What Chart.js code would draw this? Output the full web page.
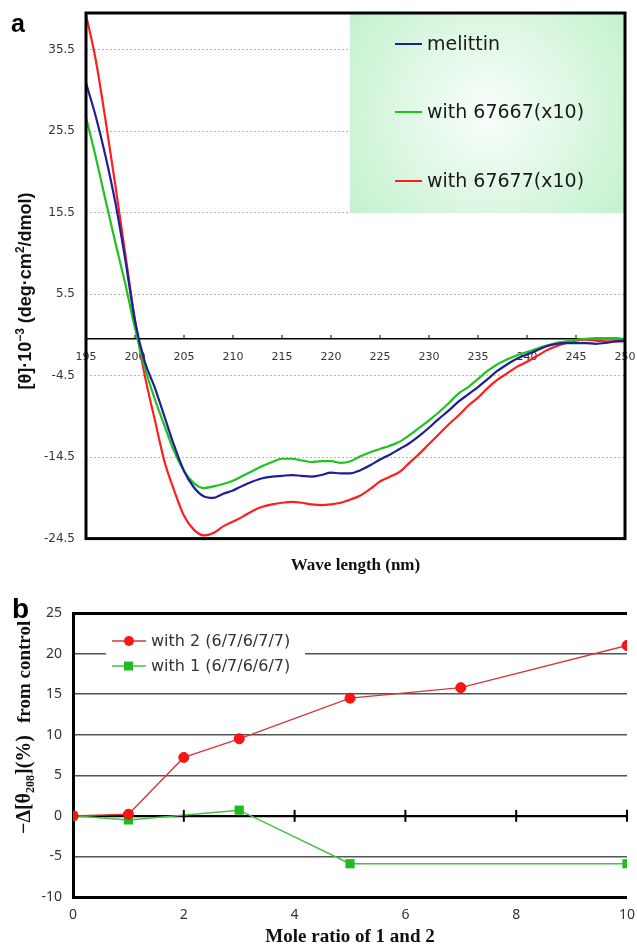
<!DOCTYPE html>
<html>
<head>
<meta charset="utf-8">
<script src="https://cdn.jsdelivr.net/npm/chart.js"></script>
<style>
  html, body { margin: 0; padding: 0; background: #fff; }
  #wrapA { position: absolute; left: 0; top: 0; width: 637px; height: 589px; }
  #wrapB { position: absolute; left: 0; top: 590px; width: 637px; height: 357px; }
</style>
</head>
<body>
<div id="wrapA"><canvas id="chartA" width="637" height="589"></canvas></div>
<div id="wrapB"><canvas id="chartB" width="637" height="357"></canvas></div>

<script>
// ---- panel a : CD spectra ----
const waveLength = [195, 196, 197, 198, 199, 200, 201, 202, 203, 204, 205, 206, 207, 208, 209, 210,
  211, 212, 213, 214, 215, 216, 217, 218, 219, 220, 221, 222, 223, 224, 225, 226, 227, 228, 229, 230,
  231, 232, 233, 234, 235, 236, 237, 238, 239, 240, 241, 242, 243, 244, 245, 246, 247, 248, 249, 250];
const melittin = [31.4, 27.3, 22.4, 16.7, 9.8, 2.2, -2.8, -5.9, -9.5, -13.1, -16.2, -18.2, -19.3, -19.5,
  -19.0, -18.6, -18.0, -17.5, -17.1, -16.9, -16.8, -16.7, -16.8, -16.9, -16.7, -16.4, -16.5, -16.5,
  -16.1, -15.5, -14.8, -14.2, -13.5, -12.8, -11.9, -10.9, -9.8, -8.8, -7.7, -6.8, -5.9, -4.9, -3.9,
  -3.1, -2.4, -1.9, -1.4, -0.9, -0.6, -0.5, -0.5, -0.5, -0.6, -0.5, -0.3, -0.2];
const with67667 = [27.2, 22.3, 17.0, 11.8, 6.8, 1.3, -3.5, -7.3, -10.6, -13.8, -16.2, -17.7, -18.3, -18.1,
  -17.8, -17.4, -16.8, -16.2, -15.6, -15.1, -14.7, -14.7, -14.9, -15.1, -15.0, -15.0, -15.2, -15.0,
  -14.4, -13.9, -13.5, -13.1, -12.6, -11.8, -10.9, -10.0, -9.0, -7.9, -6.7, -5.9, -4.9, -3.9, -3.1,
  -2.5, -2.0, -1.6, -1.2, -0.8, -0.5, -0.3, -0.1, 0.0, 0.1, 0.1, 0.1, 0.0];
const with67677 = [39.8, 34.2, 26.8, 18.8, 10.5, 2.3, -4.5, -9.8, -15.0, -18.6, -21.7, -23.4, -24.1, -23.8,
  -23.0, -22.4, -21.8, -21.1, -20.6, -20.3, -20.1, -20.0, -20.1, -20.3, -20.4, -20.3, -20.1, -19.7,
  -19.2, -18.4, -17.5, -16.9, -16.3, -15.2, -14.1, -12.9, -11.7, -10.5, -9.4, -8.2, -7.2, -6.0, -5.0,
  -4.2, -3.4, -2.8, -2.1, -1.4, -0.9, -0.5, -0.2, -0.1, -0.2, -0.3, -0.3, -0.3];
const seriesNamesA = ['melittin', 'with 67667(x10)', 'with 67677(x10)'];
const xTicksA = [195, 200, 205, 210, 215, 220, 225, 230, 235, 240, 245, 250];
const yTicksA = [-24.5, -14.5, -4.5, 5.5, 15.5, 25.5, 35.5];

// ---- panel b : mole ratio ----
const moleRatio2 = [0, 1, 2, 3, 5, 7, 10];
const with2 = [0, 0.2, 7.2, 9.5, 14.5, 15.8, 21.0];
const moleRatio1 = [0, 1, 3, 5, 10];
const with1 = [0, -0.5, 0.7, -5.9, -5.9];
const seriesNamesB = ['with 2 (6/7/6/7/7)', 'with 1 (6/7/6/6/7)'];

function pts(xs, ys) { return xs.map((x, i) => ({ x: x, y: ys[i] })); }

// rotated text made of pieces [text, font, dy]
function drawRotated(ctx, cx, cy, pieces, centered) {
  let total = 0;
  pieces.forEach(p => { ctx.font = p[1]; p.w = ctx.measureText(p[0]).width; total += p.w; });
  ctx.save();
  ctx.translate(cx, cy);
  ctx.rotate(-Math.PI / 2);
  ctx.textBaseline = 'alphabetic';
  ctx.textAlign = 'left';
  let x = centered ? -total / 2 : 0;
  pieces.forEach(p => { ctx.font = p[1]; ctx.fillText(p[0], x, p[2]); x += p.w; });
  ctx.restore();
}

const decorA = {
  id: 'decorA',
  afterDatasetsDraw(chart) {
    const { ctx, chartArea: a, scales } = chart;
    ctx.save();
    // legend box
    const bx = 350, by = a.top, bw = a.right - 350, bh = 213 - a.top;
    const g = ctx.createRadialGradient(bx + bw / 2, by + bh / 2, 8, bx + bw / 2, by + bh / 2, bw * 0.6);
    g.addColorStop(0, '#f7fdf8');
    g.addColorStop(1, '#c4f2cf');
    ctx.fillStyle = g;
    ctx.fillRect(bx, by, bw, bh);
    const rows = [44, 112, 181];
    ctx.font = '19px "DejaVu Sans"';
    ctx.textBaseline = 'middle';
    ctx.fillStyle = '#1a1a1a';
    chart.data.datasets.forEach((ds, i) => {
      ctx.strokeStyle = ds.borderColor;
      ctx.lineWidth = 2;
      ctx.beginPath(); ctx.moveTo(395, rows[i]); ctx.lineTo(422, rows[i]); ctx.stroke();
      ctx.fillText(ds.label, 427, rows[i] + 1);
    });
    // small tick marks above the zero line
    const y0 = scales.y.getPixelForValue(0);
    ctx.strokeStyle = '#000';
    ctx.lineWidth = 1;
    xTicksA.forEach(v => {
      const px = scales.x.getPixelForValue(v);
      ctx.beginPath(); ctx.moveTo(px, y0); ctx.lineTo(px, y0 - 4); ctx.stroke();
    });
    // frame
    ctx.lineWidth = 3;
    ctx.strokeRect(a.left, a.top, a.right - a.left, a.bottom - a.top);
    ctx.restore();
  },
  afterDraw(chart) {
    const ctx = chart.ctx;
    ctx.save();
    ctx.fillStyle = '#000';
    ctx.font = 'bold 25px "Liberation Sans"';
    ctx.textBaseline = 'alphabetic';
    ctx.fillText('a', 11, 32);
    ctx.fillStyle = '#111';
    const f = 'bold 18px "Liberation Sans"', s = 'bold 12px "Liberation Sans"';
    drawRotated(ctx, 31, 291, [
      ['[θ]·10', f, 0], ['−3', s, -7], [' (deg·cm', f, 0], ['2', s, -7], ['/dmol)', f, 0]
    ], true);
    ctx.restore();
  }
};

const decorB = {
  id: 'decorB',
  afterDatasetsDraw(chart) {
    const { ctx, scales } = chart;
    ctx.save();
    // tick marks across the zero line
    const y0 = scales.y.getPixelForValue(0);
    ctx.strokeStyle = '#000';
    ctx.lineWidth = 2;
    [2, 4, 6, 8, 10].forEach(v => {
      const px = scales.x.getPixelForValue(v);
      ctx.beginPath(); ctx.moveTo(px, y0 - 6); ctx.lineTo(px, y0 + 6); ctx.stroke();
    });
    // legend
    ctx.fillStyle = '#fff';
    ctx.fillRect(106, 40, 199, 48);
    const rows = [51, 76];
    ctx.font = '16px "DejaVu Sans"';
    ctx.textBaseline = 'middle';
    chart.data.datasets.forEach((ds, i) => {
      ctx.strokeStyle = ds.borderColor;
      ctx.lineWidth = 1.5;
      ctx.beginPath(); ctx.moveTo(112, rows[i]); ctx.lineTo(146, rows[i]); ctx.stroke();
      ctx.fillStyle = ds.pointBackgroundColor;
      if (ds.pointStyle === 'rect') {
        ctx.fillRect(124, rows[i] - 4.5, 9, 9);
      } else {
        ctx.beginPath(); ctx.arc(129, rows[i], 5, 0, Math.PI * 2); ctx.fill();
      }
      ctx.fillStyle = '#333';
      ctx.fillText(ds.label, 151, rows[i] + 1);
    });
    ctx.restore();
  },
  afterDraw(chart) {
    const ctx = chart.ctx;
    ctx.save();
    ctx.fillStyle = '#000';
    ctx.font = 'bold 28px "Liberation Sans"';
    ctx.textBaseline = 'alphabetic';
    ctx.fillText('b', 12, 28);
    ctx.fillStyle = '#111';
    const f = 'bold 20px "Liberation Serif"', s = 'bold 12px "Liberation Serif"';
    drawRotated(ctx, 30, 244, [['−Δ[θ', f, 0], ['208', s, 4], ['](%)', f, 0]], false);
    drawRotated(ctx, 30, 133, [['from control', 'bold 19px "Liberation Serif"', 0]], false);
    ctx.restore();
  }
};

new Chart(document.getElementById('chartA'), {
  type: 'line',
  data: {
    datasets: [
      { label: seriesNamesA[0], data: pts(waveLength, melittin), borderColor: '#1e1e96' },
      { label: seriesNamesA[1], data: pts(waveLength, with67667), borderColor: '#1cc41c' },
      { label: seriesNamesA[2], data: pts(waveLength, with67677), borderColor: '#ff1e1e' }
    ]
  },
  options: {
    responsive: false,
    animation: false,
    devicePixelRatio: 1,
    layout: { padding: { top: 13, right: 12, left: 0, bottom: 0 } },
    elements: {
      line: { borderWidth: 2.2, cubicInterpolationMode: 'monotone', fill: false },
      point: { radius: 0 }
    },
    plugins: {
      legend: { display: false },
      tooltip: { enabled: false },
      title: {
        display: true,
        position: 'bottom',
        fullSize: false,
        text: 'Wave length (nm)',
        color: '#111',
        font: { family: '"Liberation Serif"', size: 17, weight: 'bold' },
        padding: { top: 17, bottom: 13 }
      }
    },
    scales: {
      x: {
        type: 'linear',
        min: 195, max: 250,
        position: { y: 0 },
        grid: { display: false, drawTicks: false },
        border: { display: true, color: '#000', width: 1.5 },
        ticks: { padding: 12, color: '#333', font: { family: '"DejaVu Sans"', size: 11 }, maxRotation: 0, autoSkip: false },
        afterBuildTicks: s => { s.ticks = xTicksA.map(v => ({ value: v })); },
        afterFit: s => { s.paddingLeft = 0; s.paddingRight = 0; }
      },
      y: {
        type: 'linear',
        min: -24.5, max: 40,
        grid: { color: '#b5b5b5', lineWidth: 1, drawTicks: false },
        border: { display: false, dash: [2, 2] },
        ticks: {
          padding: 11, color: '#333', font: { family: '"DejaVu Sans"', size: 12 },
          callback: v => v.toFixed(1)
        },
        afterBuildTicks: s => { s.ticks = yTicksA.map(v => ({ value: v })); },
        afterFit: s => { s.width = 86; s.paddingTop = 0; s.paddingBottom = 0; }
      }
    }
  },
  plugins: [decorA]
});

new Chart(document.getElementById('chartB'), {
  type: 'line',
  data: {
    datasets: [
      {
        label: seriesNamesB[0], data: pts(moleRatio2, with2),
        borderColor: '#d03a3a', borderWidth: 1.3,
        pointStyle: 'circle', pointRadius: 5, pointBorderWidth: 1,
        pointBackgroundColor: '#ff1414', pointBorderColor: '#e81010'
      },
      {
        label: seriesNamesB[1], data: pts(moleRatio1, with1),
        borderColor: '#45bf45', borderWidth: 1.5,
        pointStyle: 'rect', pointRadius: 6.5, pointBorderWidth: 0,
        pointBackgroundColor: '#1fbb1f', pointBorderColor: '#1fbb1f'
      }
    ]
  },
  options: {
    responsive: false,
    animation: false,
    devicePixelRatio: 1,
    layout: { padding: { top: 23, right: 10, left: 0, bottom: 0 } },
    elements: { line: { tension: 0, fill: false } },
    plugins: { legend: { display: false }, tooltip: { enabled: false } },
    scales: {
      x: {
        type: 'linear',
        min: 0, max: 10,
        grid: { display: false, drawTicks: false },
        border: { display: false },
        ticks: { stepSize: 2, padding: 10, color: '#333', font: { family: '"Noto Sans"', size: 14 }, maxRotation: 0 },
        title: {
          display: true,
          text: 'Mole ratio of 1 and 2',
          color: '#111',
          font: { family: '"Liberation Serif"', size: 19, weight: 'bold', lineHeight: 1 },
          padding: { top: 0, bottom: 0 }
        },
        afterFit: s => { s.height = 50; s.paddingLeft = 0; s.paddingRight = 0; }
      },
      y: {
        type: 'linear',
        min: -10, max: 25,
        grid: {
          drawTicks: false,
          color: c => ([25, -10, 0].includes(c.tick.value) ? '#000' : '#555'),
          lineWidth: c => (c.tick.value === 25 || c.tick.value === -10 ? 3 : (c.tick.value === 0 ? 2.2 : 1.5))
        },
        border: { display: true, color: '#000', width: 3 },
        ticks: { stepSize: 5, padding: 11, color: '#333', font: { family: '"Noto Sans"', size: 14 } },
        afterFit: s => { s.width = 73; s.paddingTop = 0; s.paddingBottom = 0; }
      }
    }
  },
  plugins: [decorB]
});
</script>
</body>
</html>
